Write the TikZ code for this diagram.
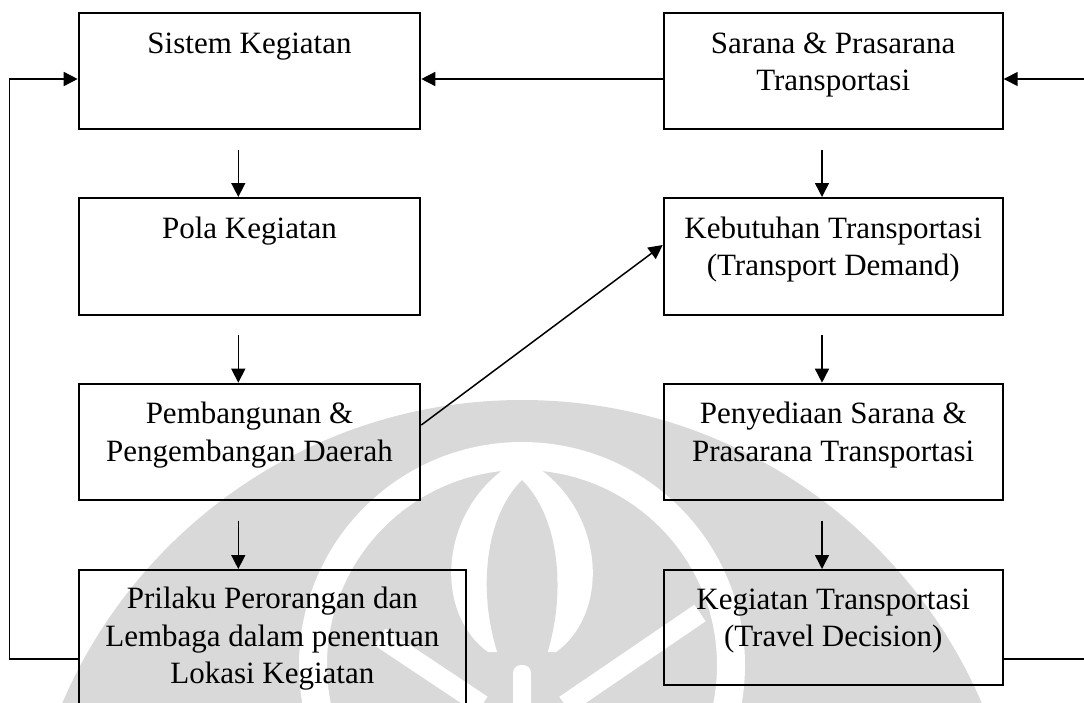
\documentclass[tikz,border=0pt]{standalone}
\usepackage{fontspec}
\setmainfont{Liberation Serif}
\usetikzlibrary{arrows.meta}
\begin{document}
\begin{tikzpicture}[x=1pt,y=-1pt,
  box/.style={draw, line width=2pt, rectangle, inner sep=0pt, anchor=north west},
  txt/.style={anchor=north, align=center, inner sep=0pt, font=\fontsize{31}{37.5}\selectfont},
  arr/.style={line width=1.5pt, -{Triangle[length=14pt,width=14pt]}},
  wm/.style={fill=black!15},
  wmgap/.style={fill=white}]
\useasboundingbox (0,0) rectangle (1084,702);
\clip (0,0) rectangle (1084,702);

% faint emblem in the background
\fill[wm] (522,900) circle[radius=500pt];
\fill[wmgap, even odd rule] (522,665) circle[radius=223pt] (522,665) circle[radius=195pt];
\fill[wmgap] (522,458) .. controls (440,500) and (430,610) .. (488,652)
   -- (556,652) .. controls (614,610) and (604,500) .. (522,458) -- cycle;
\fill[wm] (522,480) .. controls (482,520) and (478,600) .. (500,660)
   -- (500,710) -- (545,710) -- (545,660) .. controls (566,600) and (562,520) .. (522,480) -- cycle;
\draw[white, line width=20pt] (380,637) -- (482,705);
\draw[white, line width=20pt] (700,613) -- (565,705);
\fill[wmgap, rounded corners=8pt] (513,665) rectangle (531,720);

% boxes
\node[box, minimum width=341.6pt, minimum height=116pt] (sk) at (77.7,12) {};
\node[box, minimum width=339pt, minimum height=116pt] (sp) at (662.7,12) {};
\node[box, minimum width=341.6pt, minimum height=116.7pt] (pola) at (77.7,197) {};
\node[box, minimum width=339pt, minimum height=116.7pt] (keb) at (662.7,197) {};
\node[box, minimum width=341.6pt, minimum height=116pt] (pem) at (77.7,382.7) {};
\node[box, minimum width=339pt, minimum height=116pt] (pen) at (662.7,382.7) {};
\node[box, minimum width=387.3pt, minimum height=160pt] (pri) at (77.7,569) {};
\node[box, minimum width=339pt, minimum height=115pt] (kt) at (662.7,569) {};

% box texts
\node[txt] (skt) at ([yshift=-15pt]sk.north) {\strut Sistem Kegiatan};
\node[txt] (spt) at ([yshift=-15pt]sp.north) {\strut Sarana \& Prasarana\\Transportasi};
\node[txt] (polat) at ([yshift=-15pt]pola.north) {\strut Pola Kegiatan};
\node[txt] (kebt) at ([yshift=-15pt]keb.north) {\strut Kebutuhan Transportasi\\(Transport Demand)};
\node[txt] (pemt) at ([yshift=-14.5pt]pem.north) {\strut Pembangunan \&\\Pengembangan Daerah};
\node[txt] (pent) at ([yshift=-14.5pt]pen.north) {\strut Penyediaan Sarana \&\\Prasarana Transportasi};
\node[txt] (prit) at ([yshift=-13.5pt]pri.north) {\strut Prilaku Perorangan dan\\Lembaga dalam penentuan\\Lokasi Kegiatan};
\node[txt] (ktt) at ([yshift=-14pt]kt.north) {\strut Kegiatan Transportasi\\(Travel Decision)};

% corner points of the feedback loops
\coordinate (lc) at (9.3,79);
\coordinate (rc) at (1100,79);

% connectors
\draw[arr] ([xshift=-11.2pt,yshift=-20pt]sk.south) -- ([xshift=-11.2pt]pola.north);
\draw[arr] ([xshift=-11.2pt,yshift=-19.5pt]pola.south) -- ([xshift=-11.2pt]pem.north);
\draw[arr] ([xshift=-11.2pt,yshift=-20pt]pem.south) -- ([xshift=-11.2pt]pem.south |- pri.north);
\draw[arr] ([xshift=-11.2pt,yshift=-20pt]sp.south) -- ([xshift=-11.2pt]keb.north);
\draw[arr] ([xshift=-11.2pt,yshift=-19.5pt]keb.south) -- ([xshift=-11.2pt]pen.north);
\draw[arr] ([xshift=-11.2pt,yshift=-20pt]pen.south) -- ([xshift=-11.2pt]kt.north);
\draw[arr] ([yshift=-67pt]sp.north west) -- ([yshift=-67pt]sk.north east);
\draw[arr] ([yshift=-42.3pt]pem.north east) -- ([yshift=-48pt]keb.north west);
\draw[arr] ([yshift=-90pt]pri.north west) -| (lc) -- ([yshift=-67pt]sk.north west);
\draw[arr] ([yshift=-90pt]kt.north east) -| (rc) -- ([yshift=-67pt]sp.north east);
\end{tikzpicture}
\end{document}
